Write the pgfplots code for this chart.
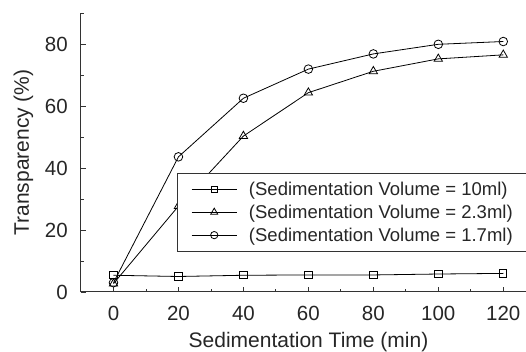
\documentclass[border=0pt]{standalone}
\usepackage{pgfplots}
\pgfplotsset{compat=1.18}
\usepackage{fontspec}
\setmainfont{Liberation Sans}
\begin{document}
\begin{tikzpicture}
\begin{axis}[
  scale only axis, width=445pt, height=279pt,
  xmin=-10, xmax=127, ymin=0, ymax=90,
  axis lines*=left,
  axis line style={line width=1pt, black!80},
  tick align=inside,
  xtick={0,20,40,60,80,100,120}, xticklabels={},
  ytick={0,20,40,60,80}, yticklabels={},
  minor xtick={10,30,...,110}, minor ytick={10,30,...,90},
  major tick length=5pt, minor tick length=3pt,
  tick style={line width=0.8pt, black!80},
  xlabel style={font=\fontsize{21}{24}\selectfont, text=black!85, inner sep=0pt,
    at={([xshift=5pt,yshift=-56pt]axis description cs:0.5,0)}, anchor=base},
  ylabel style={font=\fontsize{21}{24}\selectfont, text=black!85, inner sep=0pt,
    at={([xshift=-52pt]axis description cs:0,0.5)}, anchor=base},
  xlabel={Sedimentation Time (min)},
  ylabel={Transparency (\%)},
  clip=false,
  legend style={at={(0.2157,0.427)}, anchor=north west, draw=black!80, line width=1pt,
    font=\fontsize{18.5}{21}\selectfont, text=black!85, row sep=8pt,
    inner xsep=0pt, inner ysep=8.5pt, nodes={inner sep=0pt}, cells={anchor=west}},
  legend image code/.code={\path (-13.7pt,0pt) (57pt,0pt);
    \draw[#1, mark repeat=2, mark phase=2, mark options={solid, fill=white, scale=0.85}] plot coordinates {(0pt,0pt)(22.65pt,0pt)(45.3pt,0pt)};},
]
\addplot[black, line width=0.8pt, mark=square, mark size=3.6pt, mark options={fill=white, solid}] coordinates {(0,5.4)(20,5.0)(40,5.4)(60,5.5)(80,5.5)(100,5.8)(120,6.0)};
\addlegendentry{\makebox[295pt][l]{(Sedimentation Volume = 10ml)}}
\addplot[black, line width=0.8pt, mark=triangle, mark size=4.8pt, mark options={fill=white, solid}] coordinates {(0,2.7)(20,27.7)(40,50.3)(60,64.3)(80,71.2)(100,75.2)(120,76.5)};
\addlegendentry{(Sedimentation Volume = 2.3ml)}
\addplot[black, line width=0.8pt, mark=o, mark size=4.3pt, mark options={fill=white, solid}] coordinates {(0,3.0)(20,43.6)(40,62.5)(60,71.9)(80,76.8)(100,79.9)(120,80.8)};
\addlegendentry{(Sedimentation Volume = 1.7ml)}
\pgfplotsinvokeforeach{0,20,40,60,80,100,120}{
  \node[font=\fontsize{20.5}{24}\selectfont, text=black!85, inner sep=0pt, anchor=base] at ([yshift=-28.5pt]axis cs:#1,0) {#1};
}
\pgfplotsinvokeforeach{0,20,40,60,80}{
  \node[font=\fontsize{20.5}{24}\selectfont, text=black!85, inner sep=0pt, anchor=east] at ([xshift=-13pt]axis cs:-10,#1) {#1};
}
\end{axis}
\pgfresetboundingbox
\path[use as bounding box] (-81pt,-60pt) rectangle (445pt,292pt);
\end{tikzpicture}
\end{document}
